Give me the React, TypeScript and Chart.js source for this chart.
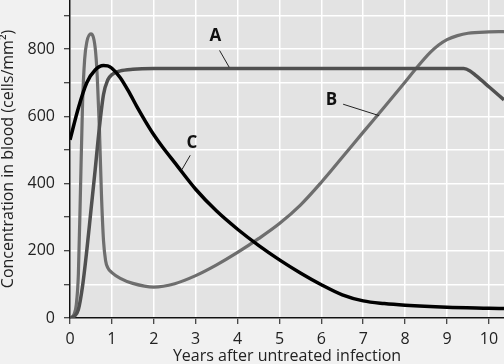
import React, { useEffect, useRef } from "react";
import { Chart, registerables } from "chart.js";

Chart.register(...registerables);

// Curve A
const yearsA = [0, 0.1, 0.2, 0.3, 0.4, 0.5, 0.6, 0.7, 0.8, 0.9, 1.0, 1.2, 1.5, 2, 5, 9.4, 9.55, 9.7, 10, 10.36];
const valuesA = [0, 5, 25, 95, 200, 320, 440, 565, 665, 708, 724, 735, 740, 742, 742, 742, 735, 720, 688, 649];

// Curve B
const yearsB = [0, 0.1, 0.15, 0.2, 0.25, 0.3, 0.35, 0.4, 0.5, 0.6, 0.65, 0.7, 0.75, 0.8, 0.85, 0.9, 1.0, 1.2, 1.5, 2, 2.5, 3, 3.5, 4, 4.5, 5, 5.5, 6, 6.5, 7, 7.5, 8, 8.3, 8.6, 8.8, 9, 9.25, 9.5, 10, 10.36];
const valuesB = [0, 12, 40, 130, 380, 640, 770, 820, 845, 805, 720, 570, 370, 230, 170, 150, 135, 118, 103, 92, 102, 126, 158, 195, 236, 281, 336, 404, 478, 553, 627, 702, 748, 790, 812, 828, 840, 847, 851, 852];

// Curve C
const yearsC = [0, 0.2, 0.4, 0.6, 0.8, 0.9, 1.0, 1.2, 1.4, 1.6, 1.8, 2.0, 2.2, 2.5, 3, 3.5, 4, 4.5, 5, 5.5, 6, 6.5, 7, 7.5, 8, 9, 10, 10.36];
const valuesC = [530, 625, 700, 738, 751, 750, 743, 715, 674, 628, 585, 545, 510, 462, 383, 318, 264, 216, 173, 134, 99, 69, 51, 43, 38, 32, 29, 28];

const seriesNames = ["A", "B", "C"];
const xTitle = "Years after untreated infection";
const yTitle = "Concentration in blood (cells/mm²)";
const yLabelStep = 200;

// label annotations in data units: [text, labelX, labelY, lineX1, lineY1, lineX2, lineY2]
const annotations: [string, number, number, number, number, number, number][] = [
  ["A", 3.47, 837, 3.57, 796, 3.8, 746],
  ["B", 6.24, 649, 6.52, 636, 7.38, 602],
  ["C", 2.91, 520, 2.87, 484, 2.67, 441],
];

const toPoints = (xs: number[], ys: number[]) => xs.map((x, i) => ({ x, y: ys[i] }));

const FONT = "'Open Sans', 'Noto Sans', sans-serif";

export default function App() {
  const ref = useRef<HTMLCanvasElement | null>(null);

  useEffect(() => {
    document.body.style.margin = "0";
    const canvas = ref.current!;
    const bgPlugin = {
      id: "plotBg",
      beforeDraw(chart: any) {
        const { ctx, chartArea } = chart;
        ctx.save();
        ctx.fillStyle = "#e3e3e3";
        ctx.fillRect(chartArea.left, chartArea.top, chartArea.right - chartArea.left, chartArea.bottom - chartArea.top);
        ctx.restore();
      },
    };
    const labelPlugin = {
      id: "curveLabels",
      afterDatasetsDraw(chart: any) {
        const { ctx, scales } = chart;
        const xs = scales.x, ys = scales.y;
        ctx.save();
        annotations.forEach(([t, lx, ly, x1, y1, x2, y2]) => {
          ctx.strokeStyle = "#222";
          ctx.lineWidth = 1;
          ctx.beginPath();
          ctx.moveTo(xs.getPixelForValue(x1), ys.getPixelForValue(y1));
          ctx.lineTo(xs.getPixelForValue(x2), ys.getPixelForValue(y2));
          ctx.stroke();
          ctx.fillStyle = "#111";
          ctx.font = `bold 17px ${FONT}`;
          ctx.textAlign = "center";
          ctx.textBaseline = "middle";
          ctx.fillText(t, xs.getPixelForValue(lx), ys.getPixelForValue(ly));
        });
        ctx.restore();
      },
    };

    const chart = new Chart(canvas, {
      type: "line",
      data: {
        datasets: [
          {
            label: seriesNames[2],
            data: toPoints(yearsC, valuesC),
            borderColor: "#000000",
            borderWidth: 3.5,
            order: 0,
          },
          {
            label: seriesNames[0],
            data: toPoints(yearsA, valuesA),
            borderColor: "#505050",
            borderWidth: 3.5,
            order: 1,
          },
          {
            label: seriesNames[1],
            data: toPoints(yearsB, valuesB),
            borderColor: "#6e6e6e",
            borderWidth: 3.2,
            order: 2,
          },
        ],
      },
      options: {
        animation: false,
        responsive: false,
        devicePixelRatio: 1,
        layout: { padding: 0 },
        elements: {
          point: { radius: 0 },
          line: { cubicInterpolationMode: "monotone", fill: false },
        },
        plugins: {
          legend: { display: false },
          tooltip: { enabled: false },
        },
        scales: {
          x: {
            type: "linear",
            min: 0,
            max: 10.36,
            afterFit(scale: any) {
              scale.height = 46;
              scale.paddingLeft = 0;
              scale.paddingRight = 0;
            },
            ticks: {
              stepSize: 1,
              includeBounds: false,
              padding: 6,
              color: "#222",
              font: { family: FONT, size: 16 },
              maxRotation: 0,
            },
            grid: {
              color: "#ffffff",
              lineWidth: 1.5,
              tickColor: "#111",
              tickLength: 6,
              tickWidth: 1,
            },
            border: { color: "#111", width: 1.5 },
            title: {
              display: true,
              text: xTitle,
              color: "#222",
              font: { family: FONT, size: 16, lineHeight: 1 },
              padding: 0,
            },
          },
          y: {
            type: "linear",
            min: 0,
            max: 946,
            afterFit(scale: any) {
              scale.width = 70;
              scale.paddingTop = 0;
              scale.paddingBottom = 0;
            },
            ticks: {
              stepSize: 100,
              includeBounds: false,
              padding: 9,
              color: "#222",
              font: { family: FONT, size: 16 },
              callback: (v: any) => (Number(v) % yLabelStep === 0 ? String(v) : ""),
            },
            grid: {
              color: "#ffffff",
              lineWidth: 1.5,
              tickColor: "#111",
              tickLength: 6,
              tickWidth: 1,
            },
            border: { color: "#111", width: 1.5 },
            title: {
              display: true,
              text: yTitle,
              color: "#222",
              font: { family: FONT, size: 16, lineHeight: 1 },
              padding: 0,
            },
          },
        },
      },
      plugins: [bgPlugin, labelPlugin],
    } as any);
    return () => chart.destroy();
  }, []);

  return (
    <div style={{ position: "absolute", left: 0, top: 0, width: 504, height: 364, background: "#f1f1f1", overflow: "hidden" }}>
      <canvas ref={ref} width={504} height={364} style={{ display: "block", width: 504, height: 364 }} />
    </div>
  );
}
